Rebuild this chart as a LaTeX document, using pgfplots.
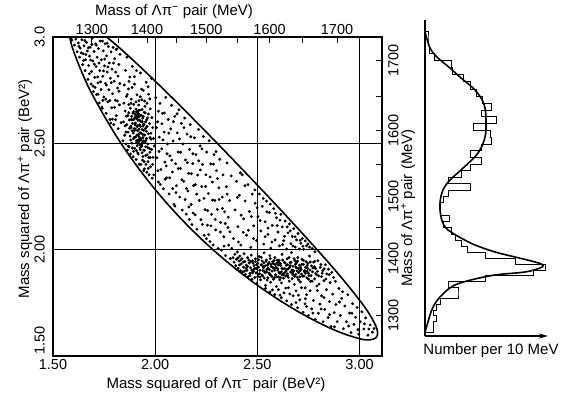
\documentclass[border=0pt]{standalone}
\usepackage{fontspec}
\setmainfont{Liberation Sans}
\usepackage{pgfplots}
\pgfplotsset{compat=1.18}
\usepackage{pgfplotstable}
\usetikzlibrary{arrows.meta}

\pgfplotstableread{
x y
1.592 2.985
1.605 2.962
1.611 2.990
1.618 2.931
1.624 2.972
1.630 2.905
1.633 2.948
1.641 2.987
1.645 2.870
1.648 2.921
1.652 2.958
1.657 2.842
1.660 2.893
1.664 2.975
1.668 2.934
1.671 2.801
1.674 2.866
1.679 2.910
1.682 2.952
1.686 2.779
1.688 2.838
1.692 2.995
1.695 2.887
1.698 2.743
1.701 2.932
1.704 2.810
1.708 2.968
1.711 2.861
1.713 2.729
1.716 2.905
1.720 2.784
1.722 2.946
1.726 2.690
1.729 2.842
1.731 2.981
1.735 2.753
1.737 2.893
1.741 2.665
1.744 2.815
1.746 2.935
1.749 2.718
1.752 2.864
1.755 2.968
1.757 2.782
1.760 2.641
1.762 2.911
1.765 2.835
1.768 2.695
1.771 2.955
1.773 2.752
1.776 2.878
1.779 2.612
1.781 2.806
1.784 2.930
1.787 2.667
1.789 2.849
1.792 2.733
1.794 2.951
1.797 2.588
1.799 2.792
1.802 2.898
1.805 2.703
1.807 2.835
1.810 2.630
1.813 2.944
1.816 2.760
1.819 2.569
1.822 2.871
1.825 2.681
1.828 2.918
1.842 2.512
1.845 2.601
1.847 2.689
1.849 2.774
1.851 2.538
1.853 2.652
1.855 2.843
1.857 2.497
1.859 2.720
1.861 2.588
1.862 2.905
1.864 2.468
1.866 2.631
1.867 2.553
1.869 2.756
1.871 2.682
1.872 2.484
1.874 2.610
1.876 2.812
1.877 2.534
1.879 2.665
1.880 2.450
1.882 2.573
1.883 2.708
1.885 2.627
1.886 2.501
1.888 2.862
1.889 2.594
1.891 2.642
1.892 2.437
1.894 2.521
1.895 2.683
1.896 2.612
1.898 2.559
1.899 2.778
1.900 2.476
1.902 2.638
1.903 2.595
1.904 2.530
1.906 2.661
1.907 2.424
1.908 2.617
1.910 2.503
1.911 2.728
1.912 2.579
1.914 2.644
1.915 2.455
1.916 2.608
1.918 2.541
1.919 2.680
1.920 2.625
1.922 2.401
1.923 2.587
1.924 2.512
1.926 2.656
1.927 2.470
1.928 2.831
1.930 2.603
1.931 2.548
1.932 2.632
1.934 2.493
1.935 2.705
1.936 2.565
1.938 2.421
1.939 2.618
1.940 2.527
1.942 2.749
1.943 2.590
1.944 2.468
1.946 2.646
1.947 2.380
1.948 2.539
1.950 2.674
1.951 2.506
1.953 2.601
1.954 2.442
1.956 2.787
1.957 2.557
1.959 2.364
1.960 2.688
1.962 2.481
1.963 2.620
1.965 2.414
1.967 2.545
1.968 2.731
1.970 2.352
1.972 2.593
1.974 2.458
1.976 2.662
1.978 2.390
1.980 2.519
1.983 2.805
1.985 2.336
1.988 2.574
1.990 2.434
1.905 2.632
1.913 2.625
1.917 2.641
1.921 2.636
1.909 2.648
1.925 2.629
1.911 2.617
1.919 2.655
1.901 2.621
1.915 2.633
1.908 2.512
1.916 2.505
1.924 2.497
1.931 2.516
1.937 2.503
1.912 2.489
1.928 2.524
1.943 2.511
1.920 2.531
1.934 2.485
1.893 2.548
1.897 2.569
1.881 2.581
1.887 2.559
1.921 2.567
1.929 2.579
1.937 2.602
1.945 2.588
1.952 2.570
1.958 2.523
1.964 2.497
1.971 2.476
1.976 2.433
1.982 2.471
1.987 2.401
1.993 2.352
1.996 2.488
1.955 2.401
1.966 2.382
1.940 2.438
2.003 2.715
2.008 2.432
2.012 2.601
2.016 2.318
2.020 2.529
2.024 2.688
2.028 2.377
2.032 2.474
2.036 2.641
2.040 2.286
2.044 2.553
2.048 2.412
2.052 2.716
2.056 2.338
2.060 2.497
2.064 2.612
2.068 2.262
2.072 2.441
2.076 2.568
2.080 2.679
2.084 2.365
2.088 2.511
2.092 2.213
2.096 2.627
2.100 2.404
2.104 2.301
2.108 2.549
2.112 2.459
2.116 2.658
2.120 2.247
2.124 2.382
2.128 2.594
2.132 2.186
2.136 2.497
2.140 2.321
2.144 2.619
2.148 2.422
2.152 2.167
2.156 2.543
2.160 2.276
2.164 2.359
2.168 2.472
2.172 2.588
2.176 2.213
2.180 2.118
2.184 2.405
2.188 2.301
2.192 2.526
2.196 2.164
2.200 2.447
2.204 2.096
2.208 2.351
2.212 2.565
2.216 2.232
2.220 2.488
2.224 2.141
2.228 2.296
2.232 2.401
2.236 2.532
2.240 2.067
2.244 2.188
2.248 2.352
2.252 2.459
2.256 2.115
2.260 2.264
2.264 2.512
2.268 2.038
2.272 2.403
2.276 2.166
2.280 2.318
2.284 2.022
2.288 2.447
2.292 2.231
2.296 2.093
2.300 2.372
2.304 2.189
2.308 2.005
2.312 2.291
2.316 2.425
2.320 2.128
2.324 1.998
2.328 2.247
2.332 2.352
2.336 2.061
2.340 2.178
2.344 1.972
2.348 2.296
2.352 2.408
2.356 2.104
2.360 2.021
2.364 2.231
2.368 1.958
2.372 2.347
2.381 1.962
2.386 1.941
2.390 1.978
2.394 1.925
2.398 1.955
2.402 1.989
2.406 1.912
2.410 1.946
2.414 1.970
2.418 1.901
2.421 1.933
2.425 1.958
2.428 1.895
2.432 1.918
2.435 1.981
2.439 1.944
2.442 1.884
2.446 1.927
2.449 1.903
2.453 1.962
2.456 1.874
2.460 1.937
2.463 1.889
2.467 1.915
2.470 1.974
2.474 1.861
2.477 1.948
2.481 1.898
2.484 1.925
2.488 1.869
2.491 1.957
2.495 1.911
2.498 1.842
2.502 1.936
2.505 1.884
2.509 1.968
2.512 1.903
2.516 1.858
2.519 1.929
2.523 1.947
2.526 1.876
2.530 1.915
2.533 1.985
2.537 1.893
2.540 1.832
2.544 1.951
2.547 1.907
2.551 1.868
2.554 1.934
2.558 1.889
2.561 1.972
2.565 1.847
2.568 1.921
2.572 1.899
2.575 1.943
2.579 1.861
2.582 1.912
2.586 1.963
2.589 1.882
2.593 1.827
2.596 1.938
2.600 1.904
2.604 1.871
2.607 1.950
2.611 1.889
2.614 1.925
2.618 1.844
2.621 1.978
2.625 1.909
2.628 1.866
2.632 1.941
2.635 1.893
2.639 1.819
2.642 1.927
2.646 1.957
2.649 1.878
2.653 1.911
2.656 1.852
2.660 1.939
2.663 1.895
2.667 1.986
2.670 1.864
2.674 1.922
2.677 1.901
2.681 1.836
2.684 1.948
2.688 1.884
2.691 1.915
2.695 1.870
2.698 1.963
2.702 1.892
2.706 1.927
2.710 1.848
2.714 1.908
2.718 1.955
2.722 1.875
2.726 1.931
2.730 1.897
2.734 1.820
2.738 1.944
2.742 1.868
2.746 1.912
2.750 1.889
2.755 1.970
2.760 1.851
2.765 1.924
2.770 1.896
2.775 1.941
2.780 1.863
2.785 1.911
2.790 1.882
2.796 1.948
2.802 1.838
2.808 1.917
2.814 1.873
2.820 1.901
2.826 1.854
2.833 1.929
2.840 1.886
2.848 1.908
2.856 1.845
2.864 1.893
2.873 1.869
2.882 1.851
2.452 1.921
2.468 1.944
2.483 1.908
2.497 1.929
2.511 1.887
2.527 1.902
2.539 1.924
2.552 1.913
2.566 1.880
2.578 1.935
2.591 1.917
2.603 1.928
2.617 1.896
2.629 1.882
2.644 1.906
2.658 1.917
2.672 1.889
2.686 1.931
2.701 1.912
2.716 1.885
2.731 1.902
2.747 1.936
2.763 1.878
2.779 1.920
2.794 1.898
2.476 1.891
2.506 1.952
2.534 1.866
2.563 1.958
2.595 1.872
2.624 1.951
2.651 1.870
2.680 1.957
2.708 1.873
2.736 1.917
2.768 1.852
2.800 1.877
2.545 1.895
2.585 1.903
2.620 1.913
2.665 1.941
2.694 1.900
2.725 1.950
2.758 1.904
2.811 1.930
2.835 1.862
2.502 1.873
2.557 1.940
2.610 1.858
2.640 1.899
2.383 2.052
2.391 2.187
2.398 2.321
2.405 2.108
2.412 2.256
2.419 2.021
2.426 2.352
2.433 2.145
2.440 2.229
2.447 2.068
2.454 2.306
2.461 2.179
2.468 2.011
2.475 2.261
2.482 2.112
2.489 2.218
2.496 2.043
2.503 2.155
2.510 2.262
2.517 2.088
2.524 2.204
2.531 2.026
2.538 2.131
2.545 2.228
2.552 2.072
2.559 2.175
2.566 2.007
2.573 2.114
2.580 2.193
2.587 2.046
2.594 2.150
2.601 2.083
2.608 2.018
2.615 2.166
2.622 2.107
2.629 2.042
2.636 2.135
2.643 2.003
2.650 2.079
2.657 2.121
2.664 2.028
2.671 2.062
2.678 2.099
2.685 2.012
2.692 2.046
2.699 2.076
2.706 2.003
2.713 2.030
2.720 2.052
2.727 2.001
2.734 2.041
2.741 2.018
2.755 2.012
2.768 2.005
2.782 1.990
2.540 1.818
2.562 1.801
2.585 1.789
2.603 1.812
2.617 1.774
2.630 1.797
2.644 1.759
2.652 1.821
2.667 1.742
2.675 1.783
2.689 1.806
2.697 1.727
2.708 1.764
2.716 1.821
2.724 1.706
2.733 1.745
2.741 1.788
2.750 1.691
2.758 1.807
2.766 1.722
2.774 1.761
2.783 1.672
2.791 1.829
2.799 1.701
2.806 1.744
2.814 1.783
2.822 1.661
2.830 1.719
2.838 1.812
2.846 1.681
2.853 1.756
2.861 1.639
2.869 1.791
2.876 1.704
2.884 1.742
2.891 1.662
2.899 1.817
2.906 1.690
2.913 1.771
2.921 1.628
2.928 1.735
2.936 1.661
2.943 1.788
2.951 1.702
2.958 1.610
2.966 1.746
2.973 1.649
2.981 1.682
2.988 1.728
2.996 1.603
3.004 1.661
3.012 1.708
3.021 1.627
3.030 1.679
3.041 1.598
3.052 1.646
3.063 1.612
3.071 1.629
1.588 2.992
1.627 2.956
1.702 2.872
1.661 2.918
1.744 2.702
1.719 2.812
1.778 2.701
1.690 2.965
1.806 2.611
1.753 2.896
1.733 2.789
1.678 2.827
1.796 2.877
1.765 2.971
1.712 2.962
1.823 2.745
1.649 2.889
1.785 2.785
1.739 2.671
1.696 2.769
1.818 2.816
1.758 2.708
1.673 2.949
1.725 2.877
1.809 2.941
1.791 2.614
1.747 2.841
1.706 2.763
1.638 2.925
1.833 2.597
1.769 2.859
1.721 2.731
1.801 2.669
1.684 2.892
1.761 2.774
1.827 2.781
1.742 2.981
1.783 2.595
1.815 2.699
1.656 2.983
1.853 2.582
1.921 2.701
1.887 2.763
1.944 2.372
1.868 2.487
1.909 2.842
1.936 2.659
1.872 2.791
1.958 2.611
1.894 2.462
1.927 2.719
1.946 2.414
1.882 2.688
1.903 2.567
1.965 2.766
1.917 2.449
1.939 2.542
1.859 2.627
1.979 2.548
1.951 2.643
1.898 2.813
1.931 2.401
1.875 2.571
1.913 2.582
1.969 2.433
1.925 2.478
1.891 2.611
1.955 2.515
1.906 2.695
1.942 2.626
1.863 2.729
1.984 2.621
1.914 2.559
1.948 2.467
1.880 2.516
1.933 2.755
1.961 2.446
1.897 2.527
1.923 2.609
1.974 2.709
1.889 2.478
1.940 2.581
1.908 2.466
1.960 2.579
1.871 2.644
1.992 2.523
1.926 2.550
1.949 2.699
1.902 2.587
1.936 2.456
1.918 2.517
1.884 2.612
1.967 2.638
1.911 2.539
1.944 2.561
1.895 2.649
1.929 2.491
1.975 2.527
1.857 2.553
1.953 2.484
2.013 2.371
2.147 2.236
2.089 2.602
2.231 2.118
2.058 2.451
2.177 2.357
2.294 2.142
2.025 2.307
2.119 2.521
2.262 2.071
2.071 2.338
2.203 2.261
2.337 2.017
2.045 2.643
2.158 2.409
2.281 2.233
2.102 2.268
2.221 2.375
2.358 2.153
2.038 2.516
2.186 2.172
2.319 2.083
2.081 2.421
2.247 2.297
2.131 2.329
2.006 2.574
2.273 2.112
2.165 2.201
2.352 2.261
2.054 2.394
2.213 2.418
2.097 2.205
2.305 2.334
2.141 2.574
2.239 2.241
2.019 2.462
2.329 2.194
2.174 2.531
2.066 2.548
2.257 2.184
2.113 2.381
2.197 2.306
2.285 2.402
2.033 2.592
2.366 2.084
2.153 2.288
2.229 2.474
2.086 2.287
2.313 2.236
2.124 2.458
2.269 2.342
2.049 2.331
2.185 2.451
2.343 2.123
2.107 2.639
2.251 2.052
2.016 2.651
2.375 2.006
2.167 2.142
2.298 2.461
2.613 1.934
2.458 1.951
2.702 1.858
2.534 1.899
2.781 1.945
2.487 1.912
2.655 1.963
2.571 1.874
2.743 1.898
2.412 1.928
2.626 1.887
2.519 1.964
2.688 1.919
2.597 1.951
2.464 1.878
2.751 1.861
2.549 1.927
2.633 1.912
2.405 1.961
2.718 1.931
2.583 1.868
2.494 1.891
2.669 1.904
2.542 1.945
2.772 1.914
2.606 1.893
2.437 1.899
2.697 1.946
2.559 1.906
2.647 1.886
2.523 1.881
2.728 1.876
2.588 1.929
2.479 1.937
2.661 1.925
2.614 1.868
2.817 1.889
2.505 1.918
2.683 1.874
2.567 1.931
2.744 1.926
2.432 1.942
2.636 1.937
2.548 1.857
2.709 1.901
2.599 1.911
2.473 1.903
2.676 1.897
2.531 1.938
2.786 1.887
2.621 1.881
2.445 1.912
2.692 1.938
2.575 1.917
2.759 1.942
2.513 1.872
2.648 1.929
2.827 1.910
2.561 1.884
2.735 1.889
2.491 1.944
2.604 1.942
2.674 1.882
2.527 1.922
2.712 1.917
2.419 1.951
2.582 1.949
2.639 1.876
2.852 1.883
2.753 1.878
2.402 2.246
2.514 2.137
2.456 2.091
2.633 2.063
2.547 2.178
2.421 2.162
2.597 2.113
2.488 2.281
2.661 2.088
2.571 2.036
2.439 2.301
2.709 2.044
2.529 2.241
2.624 2.024
2.471 2.156
2.588 2.171
2.685 2.061
2.407 2.036
2.552 2.101
2.748 2.027
2.499 2.197
2.646 2.107
2.431 2.081
2.563 2.214
2.723 2.016
2.481 2.052
2.611 2.139
2.538 2.061
2.417 2.361
2.674 2.017
2.611 1.786
2.689 1.751
2.772 1.702
2.853 1.695
2.947 1.641
3.024 1.651
2.735 1.769
2.812 1.721
2.902 1.754
2.963 1.701
2.574 1.811
2.659 1.792
2.741 1.733
2.826 1.775
2.878 1.637
2.992 1.624
3.046 1.627
2.917 1.802
2.794 1.808
2.701 1.786
}\dalitzpts

\pgfplotstableread{
m c
1270 0
1270 2.7
1280 2.7
1280 2.7
1290 2.7
1290 3.7
1300 3.7
1300 2.7
1310 2.7
1310 3.7
1320 3.7
1320 5.3
1330 5.3
1330 11
1340 11
1340 11
1350 11
1350 7.7
1360 7.7
1360 20
1370 20
1370 36
1380 36
1380 40
1390 40
1390 30
1400 30
1400 20.3
1410 20.3
1410 14.3
1420 14.3
1420 12
1430 12
1430 10
1440 10
1440 8.7
1450 8.7
1450 6
1460 6
1460 8
1470 8
1470 5.3
1480 5.3
1480 5
1490 5
1490 6
1500 6
1500 7.7
1510 7.7
1510 15
1520 15
1520 7.7
1530 7.7
1530 12
1540 12
1540 15
1550 15
1550 18.7
1560 18.7
1560 15.3
1570 15.3
1570 18.7
1580 18.7
1580 22
1590 22
1590 21.7
1600 21.7
1600 16
1610 16
1610 23.7
1620 23.7
1620 18.7
1630 18.7
1630 22
1640 22
1640 19
1650 19
1650 17
1660 17
1660 15
1670 15
1670 12.7
1680 12.7
1680 9
1690 9
1690 8.7
1700 8.7
1700 3
1710 3
1710 1.5
1720 1.5
1720 1
1730 1
1730 1
1740 1
1740 0
}\histtab

\begin{document}
\begin{tikzpicture}[x=1pt,y=1pt]
\path[use as bounding box] (0,0) rectangle (564,396);

% main Dalitz plot
\begin{axis}[
  at={(53pt,40pt)}, anchor=south west, scale only axis,
  width=329pt, height=319pt,
  xmin=1.5, xmax=3.11, ymin=1.5, ymax=3.0,
  xtick={1.5,2,2.5,3}, xticklabels={1.50,2.00,2.50,3.00},
  ytick={2,2.5,3}, yticklabels={2.00,2.50,3.0},
  extra y ticks={1.5}, extra y tick labels={1.50},
  extra y tick style={yticklabel style={anchor=south west}},
  grid=major, grid style={black, line width=0.9pt},
  major tick length=0pt,
  axis line style={line width=1.3pt},
  tick label style={font=\fontsize{14.5}{17}\selectfont},
  xticklabel style={anchor=north, inner ysep=3pt},
  yticklabel style={rotate=90, anchor=south, inner ysep=8pt, inner xsep=1pt},
]
\addplot[only marks, mark=*, mark size=1.25pt, black] table[x=x,y=y] {\dalitzpts};
\addplot[black, line width=1.6pt, smooth, tension=0.6] coordinates {
(1.5757,3.0450) (1.58,3.0069) (1.60,2.9354) (1.65,2.8145) (1.70,2.7159)
(1.80,2.5488) (1.90,2.4069) (2.00,2.2828) (2.10,2.1727) (2.20,2.0741)
(2.30,1.9854) (2.40,1.9053) (2.50,1.8328) (2.60,1.7674) (2.70,1.7087)
(2.80,1.6569) (2.90,1.6130) (3.00,1.5814) (3.05,1.5758) (3.08,1.5854)
(3.087,1.5962) (3.0886,1.6069) (3.087,1.6199) (3.08,1.6409) (3.05,1.6944)
(3.00,1.7628) (2.90,1.8816) (2.80,1.9918) (2.70,2.0980) (2.60,2.2018)
(2.50,2.3038) (2.40,2.4044) (2.30,2.5038) (2.20,2.6017) (2.10,2.6981)
(2.00,2.7924) (1.90,2.8837) (1.80,2.9700) (1.70,3.0462) (1.65,3.0758)
(1.60,3.0879) (1.58,3.0711) (1.5757,3.0450)};
\end{axis}

% mass scales on top and right
\begin{axis}[
  at={(53pt,40pt)}, anchor=south west, scale only axis,
  width=329pt, height=319pt,
  xmin=1.5, xmax=3.11, ymin=1.5, ymax=3.0,
  axis x line*=top, axis y line*=right,
  axis line style={draw=none},
  xtick={1.69,1.96,2.25,2.56,2.89},
  xticklabels={1300,1400,1500,1600,1700},
  minor xtick={1.8225,2.1025,2.4025,2.7225},
  ytick={1.69,1.96,2.25,2.56,2.89},
  yticklabels={1300,1400,1500,1600,1700},
  minor ytick={1.8225,2.1025,2.4025,2.7225},
  tick align=inside,
  major tick length=6pt, minor tick length=6pt,
  tick style={black, line width=1pt},
  tick label style={font=\fontsize{14.5}{17}\selectfont},
  xticklabel style={anchor=south, inner ysep=2pt},
  yticklabel style={rotate=90, anchor=north, inner ysep=6pt},
]
\end{axis}

% projection histogram
\begin{axis}[
  at={(425pt,60pt)}, anchor=south west, scale only axis,
  width=123pt, height=316pt,
  xmin=0, xmax=41, ymin=1.594, ymax=3.0799,
  axis x line=bottom, axis y line=left,
  x axis line style={line width=1.1pt, -{Stealth[length=9pt,width=5pt]}},
  y axis line style={line width=1.1pt, -},
  xtick=\empty, ytick=\empty, clip=false,
]
\addplot[black, line width=0.9pt] table[x=c, y expr={(\thisrow{m}/1000)^2}] {\histtab};
\addplot[black, line width=1.6pt, smooth, tension=0.6] coordinates {
(0,3.0249) (1.67,2.9483) (4.33,2.9013) (8.33,2.8542) (12.0,2.8072)
(16.0,2.7602) (18.67,2.7132) (20.0,2.6661) (20.33,2.6003) (20.0,2.5298)
(17.67,2.4545) (12.0,2.3746) (8.33,2.3276) (6.0,2.2806) (5.0,2.2194)
(5.33,2.1536) (6.67,2.1066) (8.67,2.0831) (12.0,2.0549) (16.67,2.0219)
(23.33,1.9890) (30.0,1.9655) (36.67,1.9420) (39.33,1.9279) (38.33,1.9138)
(33.33,1.8950) (23.33,1.8809) (15.33,1.8574) (10.0,1.8339) (6.67,1.8009)
(3.67,1.7539) (2.0,1.7069) (1.0,1.6599) (0,1.6129)};
\end{axis}

% axis titles
\node[font=\fontsize{15}{18}\selectfont] at (174,384) {Mass of Λπ\textsuperscript{−} pair (MeV)};
\node[font=\fontsize{15}{18}\selectfont] at (216,11) {Mass squared of Λπ\textsuperscript{−} pair (BeV²)};
\node[font=\fontsize{15}{18}\selectfont, rotate=90] at (25,207) {Mass squared of Λπ\textsuperscript{+} pair (BeV²)};
\node[font=\fontsize{15}{18}\selectfont, rotate=90] at (408,188) {Mass of Λπ\textsuperscript{+} pair (MeV)};
\node[font=\fontsize{15}{18}\selectfont] at (491,45) {Number per 10 MeV};
\end{tikzpicture}
\end{document}
